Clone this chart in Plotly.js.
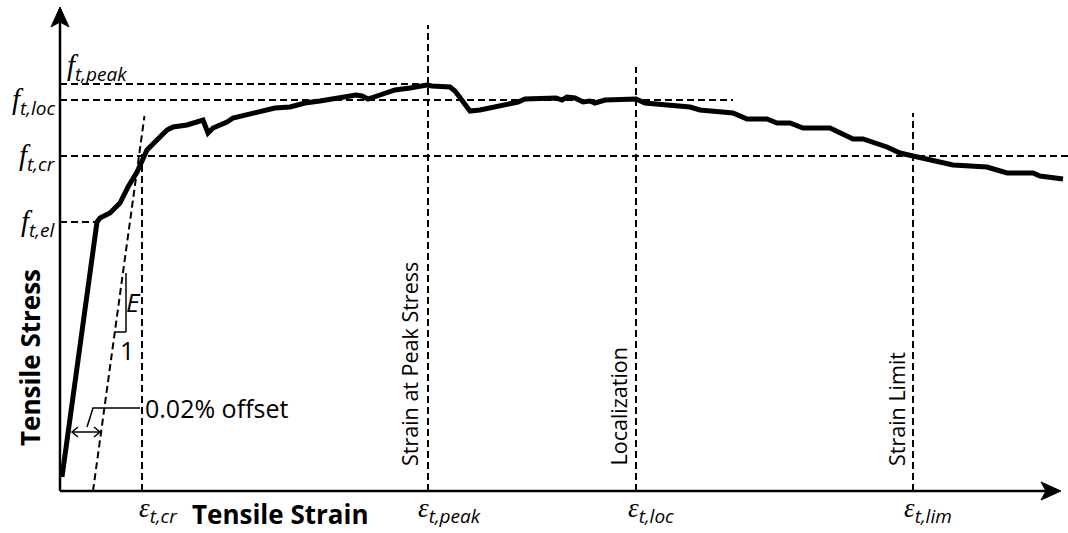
<!DOCTYPE html>
<html>
<head>
<meta charset="utf-8">
<script src="https://cdn.plot.ly/plotly-3.0.1.min.js"></script>
<style>html,body{margin:0;padding:0;background:#fff;}#chart{width:1068px;height:533px;}</style>
</head>
<body>
<div id="chart"></div>
<script>
// Schematic tensile stress-strain curve (arbitrary units)
const strain = [2,7,12,17,22,27,32,37,40,50,60,68,77,82,87,97,107,113,127,143,148,153,167,173,190,205,215,230,245,260,275,290,296,302,308,320,335,350,360,367,372,380,390,395,402,410,420,435,450,458,465,480,496,502,507,515,523,530,535,545,560,576,585,600,615,630,640,655,673,687,707,717,730,743,770,793,803,827,840,853,873,893,927,947,973,980,1003];
const stress = [14,51,87,123,160,196,233,269,273,278,288,304,319,331,341,351,361,364,366,371,358,363,369,373,377,380,383,384,388,390,392,394,396,395,392,396,401,403,405,406,405,404,404,400,390,380,381,384,387,389,392,393,393,391,394,393,389,390,388,391,392,392,388,387,386,384,381,380,378,372,372,368,368,363,363,352,352,344,338,335,331,326,324,318,318,315,312];

const stressLevelNames = ['peak', 'loc', 'cr', 'el'];
const stressLevels = [407, 391, 335, 269];
const strainLevelNames = ['cr', 'peak', 'loc', 'lim'];
const strainLevels = [82, 368, 576, 853];
const strainLevelTitles = ['', 'Strain at Peak Stress', 'Localization', 'Strain Limit'];
const offsetStrain = 33;     // 0.02% offset origin of the modulus line
const axisTitles = ['Tensile Strain', 'Tensile Stress'];

// extents of the guide lines (layout, not data)
const hEnds = [368, 673, 1008, 37];
const vTops = [341, 466, 424, 378];

const dash = {color: '#000', width: 2, dash: '7px,4px'};
const shapes = [];
stressLevels.forEach((v, i) => shapes.push({type: 'line', xref: 'x', yref: 'y', x0: 0, x1: hEnds[i], y0: v, y1: v, line: dash}));
strainLevels.forEach((v, i) => shapes.push({type: 'line', xref: 'x', yref: 'y', x0: v, x1: v, y0: 0, y1: vTops[i], line: dash}));
// modulus line (slope E) through the offset
const Eslope = (stress[7] - stress[0]) / (strain[7] - strain[0]);
shapes.push({type: 'line', xref: 'x', yref: 'y', x0: offsetStrain, y0: 0, x1: offsetStrain + 375 / Eslope, y1: 375, line: dash});
// slope triangle
const thin = {color: '#000', width: 1.5};
shapes.push({type: 'line', xref: 'x', yref: 'y', x0: 66, x1: 66, y0: 159, y1: 218, line: thin});
shapes.push({type: 'line', xref: 'x', yref: 'y', x0: 55, x1: 66, y0: 159, y1: 159, line: thin});
// offset leader and double arrow
shapes.push({type: 'path', xref: 'x', yref: 'y', path: 'M 80 83 L 33 83 L 27 64', line: thin});
shapes.push({type: 'line', xref: 'x', yref: 'y', x0: 12, x1: 40, y0: 59, y1: 59, line: thin});
shapes.push({type: 'path', xref: 'x', yref: 'y', path: 'M 18 64 L 12 59 L 18 54', line: thin});
shapes.push({type: 'path', xref: 'x', yref: 'y', path: 'M 34 64 L 40 59 L 34 54', line: thin});
// axes with arrow heads
const axisLine = {color: '#000', width: 2.5};
shapes.push({type: 'line', xref: 'x', yref: 'y', x0: 0, x1: 992, y0: 0, y1: 0, line: axisLine});
shapes.push({type: 'line', xref: 'x', yref: 'y', x0: 0, x1: 0, y0: 0, y1: 475, line: axisLine});
shapes.push({type: 'path', xref: 'x', yref: 'y', path: 'M 1001 0 L 981 -9 L 986 0 L 981 9 Z', fillcolor: '#000', line: {color: '#000', width: 1}});
shapes.push({type: 'path', xref: 'x', yref: 'y', path: 'M 0 484 L -9 464 L 0 469 L 9 464 Z', fillcolor: '#000', line: {color: '#000', width: 1}});

const sym = 'font-family:Liberation Serif;font-style:italic';
const subStyle = 'font-family:Open Sans;font-style:italic;font-size:19px';
const annotations = [];

// stress level labels
const fPos = [[5, 423, 'left'], [-2, 389, 'right'], [-2, 333, 'right'], [-2, 267, 'right']];
stressLevelNames.forEach((n, i) => annotations.push({
  x: fPos[i][0], y: fPos[i][1], xref: 'x', yref: 'y', xanchor: fPos[i][2], yanchor: 'middle', showarrow: false,
  text: '<span style="' + sym + '">f</span><sub><span style="' + subStyle + '">t,' + n + '</span></sub>',
  font: {size: 29, color: '#000', family: 'Open Sans'}
}));
// strain level labels
const ePos = [77, 356, 566, 842];
strainLevelNames.forEach((n, i) => annotations.push({
  x: ePos[i], y: -20, xref: 'x', yref: 'y', xanchor: 'left', yanchor: 'middle', showarrow: false,
  text: '<span style="' + sym + '">ε</span><sub><span style="' + subStyle + '">t,' + n + '</span></sub>',
  font: {size: 27, color: '#000', family: 'Open Sans'}
}));
// vertical titles
const tX = [0, 349, 558, 836];
strainLevelTitles.forEach((t, i) => { if (t) annotations.push({
  x: tX[i], y: 23, xref: 'x', yref: 'y', xanchor: 'center', yanchor: 'bottom', textangle: -90, showarrow: false,
  text: t, font: {size: 21.5, color: '#000', family: 'Open Sans'}
}); });
// axis titles
annotations.push({x: 220, y: -23, xref: 'x', yref: 'y', showarrow: false, borderpad: 0, text: '<b>' + axisTitles[0] + '</b>', font: {size: 26, color: '#000', family: 'Open Sans'}});
annotations.push({x: -30, y: 133, xref: 'x', yref: 'y', showarrow: false, textangle: -90, text: '<b>' + axisTitles[1] + '</b>', font: {size: 26, color: '#000', family: 'Open Sans'}});
// E / 1 and offset text
annotations.push({x: 73, y: 189, xref: 'x', yref: 'y', showarrow: false, text: '<i>E</i>', font: {size: 26, color: '#000', family: 'Open Sans'}});
annotations.push({x: 67, y: 141, xref: 'x', yref: 'y', showarrow: false, text: '1', font: {size: 25, color: '#000', family: 'Open Sans'}});
annotations.push({x: 83, y: 83, xref: 'x', yref: 'y', xanchor: 'left', showarrow: false, text: '0.02% offset', font: {size: 25, color: '#000', family: 'Open Sans'}});

const trace = {x: strain, y: stress, type: 'scatter', mode: 'lines', line: {color: '#000', width: 5}, hoverinfo: 'skip'};

const layout = {
  width: 1068, height: 533,
  margin: {l: 0, r: 0, t: 0, b: 0},
  paper_bgcolor: '#fff', plot_bgcolor: '#fff',
  showlegend: false,
  xaxis: {range: [-60, 1008], showgrid: false, zeroline: false, showticklabels: false, ticks: '', showline: false, fixedrange: true},
  yaxis: {range: [-42, 491], showgrid: false, zeroline: false, showticklabels: false, ticks: '', showline: false, fixedrange: true},
  shapes: shapes,
  annotations: annotations
};
Plotly.newPlot('chart', [trace], layout, {staticPlot: true, displayModeBar: false});
</script>
</body>
</html>
